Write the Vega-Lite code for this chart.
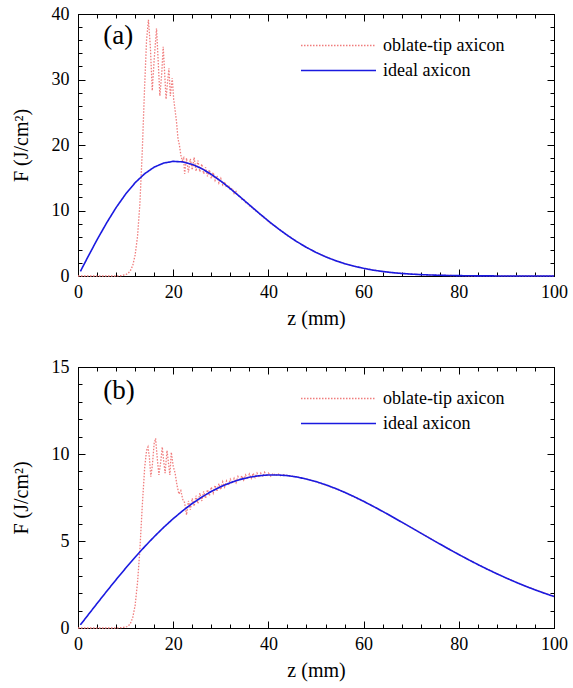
{
  "$schema": "https://vega.github.io/schema/vega-lite/v6.json",
  "padding": {"left": 10, "top": 4, "right": 12, "bottom": 5},
  "background": "white",
  "spacing": 28,
  "config": {
    "view": {"stroke": "black", "strokeWidth": 1},
    "style": {
      "guide-label": {"font": "Liberation Serif", "fontSize": 18, "fill": "#000"},
      "guide-title": {"font": "Liberation Serif", "fontSize": 20, "fontWeight": "normal", "fill": "#000"}
    }
  },
  "resolve": {"scale": {"x": "independent", "y": "independent", "color": "independent", "strokeDash": "independent"}, "legend": {"color": "independent", "strokeDash": "independent"}},
  "vconcat": [
    {
      "width": 476, "height": 262,
      "resolve": {"axis": {"x": "independent", "y": "independent"}},
      "layer": [
        {
          "data": {"values": [
            {"series":"oblate-tip axicon","z":0,"F":0},{"series":"oblate-tip axicon","z":4,"F":0},{"series":"oblate-tip axicon","z":8,"F":0},{"series":"oblate-tip axicon","z":9,"F":0.05},{"series":"oblate-tip axicon","z":10,"F":0.2},{"series":"oblate-tip axicon","z":10.5,"F":0.4},{"series":"oblate-tip axicon","z":11,"F":0.8},{"series":"oblate-tip axicon","z":11.5,"F":1.6},{"series":"oblate-tip axicon","z":12,"F":3.2},{"series":"oblate-tip axicon","z":12.5,"F":6},{"series":"oblate-tip axicon","z":13,"F":11},{"series":"oblate-tip axicon","z":13.5,"F":19},{"series":"oblate-tip axicon","z":14,"F":29},{"series":"oblate-tip axicon","z":14.4,"F":36},{"series":"oblate-tip axicon","z":14.8,"F":39.1},{"series":"oblate-tip axicon","z":15.2,"F":35},{"series":"oblate-tip axicon","z":15.6,"F":28.3},{"series":"oblate-tip axicon","z":16.0,"F":33},{"series":"oblate-tip axicon","z":16.5,"F":37.8},{"series":"oblate-tip axicon","z":16.9,"F":32},{"series":"oblate-tip axicon","z":17.2,"F":27.5},{"series":"oblate-tip axicon","z":17.6,"F":31},{"series":"oblate-tip axicon","z":17.9,"F":35},{"series":"oblate-tip axicon","z":18.2,"F":31},{"series":"oblate-tip axicon","z":18.5,"F":27},{"series":"oblate-tip axicon","z":18.8,"F":29.5},{"series":"oblate-tip axicon","z":19.1,"F":31.7},{"series":"oblate-tip axicon","z":19.4,"F":27.5},{"series":"oblate-tip axicon","z":19.8,"F":30.2},{"series":"oblate-tip axicon","z":20.1,"F":27},{"series":"oblate-tip axicon","z":20.4,"F":25.3},{"series":"oblate-tip axicon","z":20.7,"F":23.5},{"series":"oblate-tip axicon","z":21.0,"F":21},{"series":"oblate-tip axicon","z":21.3,"F":20},{"series":"oblate-tip axicon","z":21.6,"F":18.5},{"series":"oblate-tip axicon","z":21.9,"F":17.6},{"series":"oblate-tip axicon","z":22.2,"F":18.0},{"series":"oblate-tip axicon","z":22.4,"F":15.6},{"series":"oblate-tip axicon","z":22.8,"F":18.0},{"series":"oblate-tip axicon","z":23.2,"F":15.8},{"series":"oblate-tip axicon","z":23.6,"F":17.9},{"series":"oblate-tip axicon","z":24.0,"F":16.2},{"series":"oblate-tip axicon","z":24.4,"F":18.1},{"series":"oblate-tip axicon","z":24.8,"F":16.0},{"series":"oblate-tip axicon","z":25.2,"F":17.6},{"series":"oblate-tip axicon","z":25.6,"F":15.9},{"series":"oblate-tip axicon","z":26.0,"F":17.1},{"series":"oblate-tip axicon","z":26.4,"F":15.6},{"series":"oblate-tip axicon","z":26.8,"F":16.6},{"series":"oblate-tip axicon","z":27.2,"F":15.2},{"series":"oblate-tip axicon","z":27.6,"F":16.2},{"series":"oblate-tip axicon","z":28.0,"F":14.9},{"series":"oblate-tip axicon","z":28.4,"F":15.8},{"series":"oblate-tip axicon","z":28.8,"F":14.6},{"series":"oblate-tip axicon","z":29.2,"F":15.3},{"series":"oblate-tip axicon","z":29.6,"F":14.2},{"series":"oblate-tip axicon","z":30.0,"F":14.9},{"series":"oblate-tip axicon","z":30.4,"F":13.9},{"series":"oblate-tip axicon","z":30.8,"F":14.4},{"series":"oblate-tip axicon","z":31.2,"F":13.5},{"series":"oblate-tip axicon","z":31.6,"F":13.9},{"series":"oblate-tip axicon","z":32.0,"F":13.1},{"series":"oblate-tip axicon","z":32.4,"F":13.4},{"series":"oblate-tip axicon","z":32.8,"F":12.6},{"series":"oblate-tip axicon","z":33.2,"F":12.9},{"series":"oblate-tip axicon","z":33.6,"F":12.2},{"series":"oblate-tip axicon","z":34.0,"F":12.3},{"series":"oblate-tip axicon","z":34.4,"F":11.7},{"series":"oblate-tip axicon","z":34.8,"F":11.8},{"series":"oblate-tip axicon","z":35.2,"F":11.2},{"series":"oblate-tip axicon","z":35.6,"F":11.2},{"series":"oblate-tip axicon","z":36.0,"F":10.7},{"series":"oblate-tip axicon","z":36.4,"F":10.7},{"series":"oblate-tip axicon","z":36.8,"F":10.2},{"series":"oblate-tip axicon","z":37.2,"F":10.2},{"series":"oblate-tip axicon","z":37.6,"F":9.7},{"series":"oblate-tip axicon","z":38.0,"F":9.7},{"series":"oblate-tip axicon","z":38.4,"F":9.2},{"series":"oblate-tip axicon","z":38.8,"F":9.2},{"series":"oblate-tip axicon","z":39.2,"F":8.75},{"series":"oblate-tip axicon","z":39.6,"F":8.7},{"series":"oblate-tip axicon","z":40.0,"F":8.3},{"series":"oblate-tip axicon","z":40.5,"F":8.0},{"series":"oblate-tip axicon","z":41.0,"F":7.8},{"series":"oblate-tip axicon","z":42,"F":7.26},{"series":"oblate-tip axicon","z":44,"F":6.2},{"series":"oblate-tip axicon","z":46,"F":5.23},{"series":"oblate-tip axicon","z":48,"F":4.37},{"series":"oblate-tip axicon","z":50,"F":3.6},{"series":"oblate-tip axicon","z":52,"F":2.94},{"series":"oblate-tip axicon","z":54,"F":2.37},{"series":"oblate-tip axicon","z":56,"F":1.89},{"series":"oblate-tip axicon","z":58,"F":1.5},{"series":"oblate-tip axicon","z":60,"F":1.17},{"series":"oblate-tip axicon","z":62,"F":0.9},{"series":"oblate-tip axicon","z":64,"F":0.69},{"series":"oblate-tip axicon","z":66,"F":0.52},{"series":"oblate-tip axicon","z":68,"F":0.39},{"series":"oblate-tip axicon","z":70,"F":0.29},{"series":"oblate-tip axicon","z":72,"F":0.21},{"series":"oblate-tip axicon","z":74,"F":0.155},{"series":"oblate-tip axicon","z":76,"F":0.11},{"series":"oblate-tip axicon","z":78,"F":0.08},{"series":"oblate-tip axicon","z":80,"F":0.056},{"series":"oblate-tip axicon","z":84,"F":0.02},{"series":"oblate-tip axicon","z":88,"F":0.01},{"series":"oblate-tip axicon","z":92,"F":0},{"series":"oblate-tip axicon","z":100,"F":0}
          ]},
          "mark": {"type": "line", "strokeWidth": 1.3},
          "encoding": {
            "x": {"field": "z", "type": "quantitative", "scale": {"domain": [0, 100], "nice": false},
              "axis": {"orient": "bottom", "values": [0,4,8,12,16,20,24,28,32,36,40,44,48,52,56,60,64,68,72,76,80,84,88,92,96,100], "labelExpr": "datum.value % 20 === 0 ? datum.label : ''", "tickSize": {"condition": {"test": "datum.value % 20 === 0", "value": -7}, "value": -4}, "labelPadding": 14, "title": "z (mm)", "titlePadding": 4, "domainColor": "#000", "tickColor": "#000", "labelFlush": false, "labelOverlap": false, "grid": false,
                "encode": {"labels": {"update": {"font": {"value": "Liberation Serif"}, "fontSize": {"value": 18}, "fill": {"value": "#000"}}}, "title": {"update": {"font": {"value": "Liberation Serif"}, "fontSize": {"value": 20}, "fontWeight": {"value": "normal"}, "fill": {"value": "#000"}}}}}},
            "y": {"field": "F", "type": "quantitative", "scale": {"domain": [0, 40], "nice": false},
              "axis": {"orient": "left", "values": [0,2,4,6,8,10,12,14,16,18,20,22,24,26,28,30,32,34,36,38,40], "labelExpr": "datum.value % 10 === 0 ? datum.label : ''", "tickSize": {"condition": {"test": "datum.value % 10 === 0", "value": -7}, "value": -4}, "labelPadding": 16, "title": "F (J/cm²)", "titlePadding": 20, "domainColor": "#000", "tickColor": "#000", "labelFlush": false, "labelOverlap": false, "grid": false,
                "encode": {"labels": {"update": {"font": {"value": "Liberation Serif"}, "fontSize": {"value": 18}, "fill": {"value": "#000"}}}, "title": {"update": {"font": {"value": "Liberation Serif"}, "fontSize": {"value": 20}, "fontWeight": {"value": "normal"}, "fill": {"value": "#000"}}}}}},
            "color": {"field": "series", "type": "nominal", "scale": {"domain": ["oblate-tip axicon", "ideal axicon"], "range": ["#f07c7c", "#1a1ae0"]},
              "legend": {"title": null, "orient": "none", "legendX": 222, "legendY": 20, "symbolType": "stroke", "symbolSize": 5625, "clipHeight": 23, "symbolStrokeWidth": 1.5, "labelOffset": 6,
                "encode": {"labels": {"update": {"font": {"value": "Liberation Serif"}, "fontSize": {"value": 18}, "fill": {"value": "#000"}}}}}},
            "strokeDash": {"field": "series", "type": "nominal", "scale": {"domain": ["oblate-tip axicon", "ideal axicon"], "range": [[1.5, 1.5], [1, 0]]}}
          }
        },
        {
          "data": {"values": [
            {"series":"ideal axicon","z":0.5,"F":0.7},{"series":"ideal axicon","z":2,"F":2.8},{"series":"ideal axicon","z":4,"F":5.53},{"series":"ideal axicon","z":6,"F":8.09},{"series":"ideal axicon","z":8,"F":10.44},{"series":"ideal axicon","z":10,"F":12.5},{"series":"ideal axicon","z":12,"F":14.24},{"series":"ideal axicon","z":14,"F":15.61},{"series":"ideal axicon","z":16,"F":16.62},{"series":"ideal axicon","z":18,"F":17.24},{"series":"ideal axicon","z":20,"F":17.5},{"series":"ideal axicon","z":22,"F":17.42},{"series":"ideal axicon","z":24,"F":17.04},{"series":"ideal axicon","z":26,"F":16.39},{"series":"ideal axicon","z":28,"F":15.52},{"series":"ideal axicon","z":30,"F":14.49},{"series":"ideal axicon","z":32,"F":13.33},{"series":"ideal axicon","z":34,"F":12.11},{"series":"ideal axicon","z":36,"F":10.86},{"series":"ideal axicon","z":38,"F":9.61},{"series":"ideal axicon","z":40,"F":8.4},{"series":"ideal axicon","z":42,"F":7.26},{"series":"ideal axicon","z":44,"F":6.2},{"series":"ideal axicon","z":46,"F":5.23},{"series":"ideal axicon","z":48,"F":4.37},{"series":"ideal axicon","z":50,"F":3.6},{"series":"ideal axicon","z":52,"F":2.94},{"series":"ideal axicon","z":54,"F":2.37},{"series":"ideal axicon","z":56,"F":1.89},{"series":"ideal axicon","z":58,"F":1.5},{"series":"ideal axicon","z":60,"F":1.17},{"series":"ideal axicon","z":62,"F":0.9},{"series":"ideal axicon","z":64,"F":0.69},{"series":"ideal axicon","z":66,"F":0.52},{"series":"ideal axicon","z":68,"F":0.39},{"series":"ideal axicon","z":70,"F":0.29},{"series":"ideal axicon","z":72,"F":0.21},{"series":"ideal axicon","z":74,"F":0.155},{"series":"ideal axicon","z":76,"F":0.11},{"series":"ideal axicon","z":78,"F":0.08},{"series":"ideal axicon","z":80,"F":0.056},{"series":"ideal axicon","z":84,"F":0.02},{"series":"ideal axicon","z":88,"F":0.01},{"series":"ideal axicon","z":92,"F":0},{"series":"ideal axicon","z":100,"F":0}
          ]},
          "mark": {"type": "line", "strokeWidth": 1.6},
          "encoding": {
            "x": {"field": "z", "type": "quantitative",
              "axis": {"orient": "top", "values": [0,4,8,12,16,20,24,28,32,36,40,44,48,52,56,60,64,68,72,76,80,84,88,92,96,100], "labels": false, "title": null, "tickSize": {"condition": {"test": "datum.value % 20 === 0", "value": -7}, "value": -4}, "domainColor": "#000", "tickColor": "#000", "grid": false}},
            "y": {"field": "F", "type": "quantitative",
              "axis": {"orient": "right", "values": [0,2,4,6,8,10,12,14,16,18,20,22,24,26,28,30,32,34,36,38,40], "labels": false, "title": null, "tickSize": {"condition": {"test": "datum.value % 10 === 0", "value": -7}, "value": -4}, "domainColor": "#000", "tickColor": "#000", "grid": false}},
            "color": {"field": "series", "type": "nominal"},
            "strokeDash": {"field": "series", "type": "nominal"}
          }
        },
        {
          "data": {"values": [{"label": "(a)"}]},
          "mark": {"type": "text", "align": "left", "baseline": "middle", "fontSize": 27, "font": "Liberation Serif", "color": "#000"},
          "encoding": {
            "x": {"datum": 5.3, "type": "quantitative", "axis": null},
            "y": {"datum": 36.6, "type": "quantitative", "axis": null},
            "text": {"field": "label"}
          }
        }
      ]
    },
    {
      "width": 476, "height": 261,
      "resolve": {"axis": {"x": "independent", "y": "independent"}},
      "layer": [
        {
          "data": {"values": [
            {"series":"oblate-tip axicon","z":0,"F":0},{"series":"oblate-tip axicon","z":4,"F":0},{"series":"oblate-tip axicon","z":8,"F":0},{"series":"oblate-tip axicon","z":9,"F":0.02},{"series":"oblate-tip axicon","z":10,"F":0.05},{"series":"oblate-tip axicon","z":10.5,"F":0.1},{"series":"oblate-tip axicon","z":11,"F":0.25},{"series":"oblate-tip axicon","z":11.5,"F":0.6},{"series":"oblate-tip axicon","z":12,"F":1.3},{"series":"oblate-tip axicon","z":12.5,"F":2.6},{"series":"oblate-tip axicon","z":13,"F":4.5},{"series":"oblate-tip axicon","z":13.5,"F":7},{"series":"oblate-tip axicon","z":14,"F":9.2},{"series":"oblate-tip axicon","z":14.4,"F":10.2},{"series":"oblate-tip axicon","z":14.7,"F":10.4},{"series":"oblate-tip axicon","z":15.0,"F":9.8},{"series":"oblate-tip axicon","z":15.3,"F":8.7},{"series":"oblate-tip axicon","z":15.6,"F":9.3},{"series":"oblate-tip axicon","z":16.0,"F":10.6},{"series":"oblate-tip axicon","z":16.3,"F":10.9},{"series":"oblate-tip axicon","z":16.7,"F":9.6},{"series":"oblate-tip axicon","z":17.0,"F":8.8},{"series":"oblate-tip axicon","z":17.4,"F":9.6},{"series":"oblate-tip axicon","z":17.7,"F":10.4},{"series":"oblate-tip axicon","z":18.0,"F":9.6},{"series":"oblate-tip axicon","z":18.3,"F":8.9},{"series":"oblate-tip axicon","z":18.7,"F":10.2},{"series":"oblate-tip axicon","z":19.0,"F":9.5},{"series":"oblate-tip axicon","z":19.3,"F":8.8},{"series":"oblate-tip axicon","z":19.6,"F":10.1},{"series":"oblate-tip axicon","z":20.0,"F":9.3},{"series":"oblate-tip axicon","z":20.4,"F":8.9},{"series":"oblate-tip axicon","z":20.8,"F":8.2},{"series":"oblate-tip axicon","z":21.2,"F":7.7},{"series":"oblate-tip axicon","z":21.6,"F":7.9},{"series":"oblate-tip axicon","z":22.0,"F":7.4},{"series":"oblate-tip axicon","z":22.4,"F":7.2},{"series":"oblate-tip axicon","z":22.8,"F":6.5},{"series":"oblate-tip axicon","z":23.2,"F":7.3},{"series":"oblate-tip axicon","z":23.6,"F":6.8},{"series":"oblate-tip axicon","z":24.0,"F":7.45},{"series":"oblate-tip axicon","z":24.4,"F":7.0},{"series":"oblate-tip axicon","z":24.8,"F":7.6},{"series":"oblate-tip axicon","z":25.2,"F":7.15},{"series":"oblate-tip axicon","z":25.6,"F":7.75},{"series":"oblate-tip axicon","z":26.0,"F":7.3},{"series":"oblate-tip axicon","z":26.4,"F":7.85},{"series":"oblate-tip axicon","z":26.8,"F":7.45},{"series":"oblate-tip axicon","z":27.2,"F":7.95},{"series":"oblate-tip axicon","z":27.6,"F":7.6},{"series":"oblate-tip axicon","z":28.0,"F":8.1},{"series":"oblate-tip axicon","z":28.4,"F":7.75},{"series":"oblate-tip axicon","z":28.8,"F":8.2},{"series":"oblate-tip axicon","z":29.2,"F":7.85},{"series":"oblate-tip axicon","z":29.6,"F":8.3},{"series":"oblate-tip axicon","z":30.0,"F":7.95},{"series":"oblate-tip axicon","z":30.4,"F":8.4},{"series":"oblate-tip axicon","z":30.8,"F":8.1},{"series":"oblate-tip axicon","z":31.2,"F":8.45},{"series":"oblate-tip axicon","z":31.6,"F":8.2},{"series":"oblate-tip axicon","z":32.0,"F":8.55},{"series":"oblate-tip axicon","z":32.4,"F":8.3},{"series":"oblate-tip axicon","z":32.8,"F":8.6},{"series":"oblate-tip axicon","z":33.2,"F":8.35},{"series":"oblate-tip axicon","z":33.6,"F":8.7},{"series":"oblate-tip axicon","z":34.0,"F":8.45},{"series":"oblate-tip axicon","z":34.4,"F":8.75},{"series":"oblate-tip axicon","z":34.8,"F":8.5},{"series":"oblate-tip axicon","z":35.2,"F":8.8},{"series":"oblate-tip axicon","z":35.6,"F":8.55},{"series":"oblate-tip axicon","z":36.0,"F":8.85},{"series":"oblate-tip axicon","z":36.4,"F":8.6},{"series":"oblate-tip axicon","z":36.8,"F":8.9},{"series":"oblate-tip axicon","z":37.2,"F":8.65},{"series":"oblate-tip axicon","z":37.6,"F":8.9},{"series":"oblate-tip axicon","z":38.0,"F":8.65},{"series":"oblate-tip axicon","z":38.4,"F":8.9},{"series":"oblate-tip axicon","z":38.8,"F":8.7},{"series":"oblate-tip axicon","z":39.2,"F":8.95},{"series":"oblate-tip axicon","z":39.6,"F":8.7},{"series":"oblate-tip axicon","z":40.0,"F":8.9},{"series":"oblate-tip axicon","z":40.5,"F":8.72},{"series":"oblate-tip axicon","z":41.0,"F":8.9},{"series":"oblate-tip axicon","z":41.5,"F":8.75},{"series":"oblate-tip axicon","z":42.0,"F":8.88},{"series":"oblate-tip axicon","z":42.5,"F":8.75},{"series":"oblate-tip axicon","z":43.0,"F":8.82},{"series":"oblate-tip axicon","z":44,"F":8.76},{"series":"oblate-tip axicon","z":46,"F":8.677},{"series":"oblate-tip axicon","z":48,"F":8.561},{"series":"oblate-tip axicon","z":50,"F":8.413},{"series":"oblate-tip axicon","z":55,"F":7.92},{"series":"oblate-tip axicon","z":60,"F":7.28},{"series":"oblate-tip axicon","z":65,"F":6.55},{"series":"oblate-tip axicon","z":70,"F":5.771},{"series":"oblate-tip axicon","z":75,"F":4.985},{"series":"oblate-tip axicon","z":80,"F":4.222},{"series":"oblate-tip axicon","z":85,"F":3.51},{"series":"oblate-tip axicon","z":90,"F":2.867},{"series":"oblate-tip axicon","z":95,"F":2.3},{"series":"oblate-tip axicon","z":100,"F":1.811}
          ]},
          "mark": {"type": "line", "strokeWidth": 1.3},
          "encoding": {
            "x": {"field": "z", "type": "quantitative", "scale": {"domain": [0, 100], "nice": false},
              "axis": {"orient": "bottom", "values": [0,4,8,12,16,20,24,28,32,36,40,44,48,52,56,60,64,68,72,76,80,84,88,92,96,100], "labelExpr": "datum.value % 20 === 0 ? datum.label : ''", "tickSize": {"condition": {"test": "datum.value % 20 === 0", "value": -7}, "value": -4}, "labelPadding": 14, "title": "z (mm)", "titlePadding": 4, "domainColor": "#000", "tickColor": "#000", "labelFlush": false, "labelOverlap": false, "grid": false,
                "encode": {"labels": {"update": {"font": {"value": "Liberation Serif"}, "fontSize": {"value": 18}, "fill": {"value": "#000"}}}, "title": {"update": {"font": {"value": "Liberation Serif"}, "fontSize": {"value": 20}, "fontWeight": {"value": "normal"}, "fill": {"value": "#000"}}}}}},
            "y": {"field": "F", "type": "quantitative", "scale": {"domain": [0, 15], "nice": false},
              "axis": {"orient": "left", "values": [0,1,2,3,4,5,6,7,8,9,10,11,12,13,14,15], "labelExpr": "datum.value % 5 === 0 ? datum.label : ''", "tickSize": {"condition": {"test": "datum.value % 5 === 0", "value": -7}, "value": -4}, "labelPadding": 16, "title": "F (J/cm²)", "titlePadding": 20, "domainColor": "#000", "tickColor": "#000", "labelFlush": false, "labelOverlap": false, "grid": false,
                "encode": {"labels": {"update": {"font": {"value": "Liberation Serif"}, "fontSize": {"value": 18}, "fill": {"value": "#000"}}}, "title": {"update": {"font": {"value": "Liberation Serif"}, "fontSize": {"value": 20}, "fontWeight": {"value": "normal"}, "fill": {"value": "#000"}}}}}},
            "color": {"field": "series", "type": "nominal", "scale": {"domain": ["oblate-tip axicon", "ideal axicon"], "range": ["#f07c7c", "#1a1ae0"]},
              "legend": {"title": null, "orient": "none", "legendX": 222, "legendY": 20, "symbolType": "stroke", "symbolSize": 5625, "clipHeight": 23, "symbolStrokeWidth": 1.5, "labelOffset": 6,
                "encode": {"labels": {"update": {"font": {"value": "Liberation Serif"}, "fontSize": {"value": 18}, "fill": {"value": "#000"}}}}}},
            "strokeDash": {"field": "series", "type": "nominal", "scale": {"domain": ["oblate-tip axicon", "ideal axicon"], "range": [[1.5, 1.5], [1, 0]]}}
          }
        },
        {
          "data": {"values": [
            {"series":"ideal axicon","z":0.5,"F":0.18},{"series":"ideal axicon","z":2,"F":0.707},{"series":"ideal axicon","z":4,"F":1.408},{"series":"ideal axicon","z":6,"F":2.1},{"series":"ideal axicon","z":8,"F":2.777},{"series":"ideal axicon","z":10,"F":3.434},{"series":"ideal axicon","z":12,"F":4.068},{"series":"ideal axicon","z":14,"F":4.673},{"series":"ideal axicon","z":16,"F":5.246},{"series":"ideal axicon","z":18,"F":5.784},{"series":"ideal axicon","z":20,"F":6.283},{"series":"ideal axicon","z":22,"F":6.74},{"series":"ideal axicon","z":24,"F":7.155},{"series":"ideal axicon","z":26,"F":7.524},{"series":"ideal axicon","z":28,"F":7.847},{"series":"ideal axicon","z":30,"F":8.123},{"series":"ideal axicon","z":32,"F":8.35},{"series":"ideal axicon","z":34,"F":8.531},{"series":"ideal axicon","z":36,"F":8.664},{"series":"ideal axicon","z":38,"F":8.752},{"series":"ideal axicon","z":40,"F":8.796},{"series":"ideal axicon","z":42,"F":8.796},{"series":"ideal axicon","z":44,"F":8.756},{"series":"ideal axicon","z":46,"F":8.677},{"series":"ideal axicon","z":48,"F":8.561},{"series":"ideal axicon","z":50,"F":8.413},{"series":"ideal axicon","z":52,"F":8.235},{"series":"ideal axicon","z":54,"F":8.029},{"series":"ideal axicon","z":56,"F":7.8},{"series":"ideal axicon","z":58,"F":7.549},{"series":"ideal axicon","z":60,"F":7.28},{"series":"ideal axicon","z":62,"F":6.996},{"series":"ideal axicon","z":64,"F":6.701},{"series":"ideal axicon","z":66,"F":6.397},{"series":"ideal axicon","z":68,"F":6.085},{"series":"ideal axicon","z":70,"F":5.771},{"series":"ideal axicon","z":72,"F":5.455},{"series":"ideal axicon","z":74,"F":5.141},{"series":"ideal axicon","z":76,"F":4.829},{"series":"ideal axicon","z":78,"F":4.522},{"series":"ideal axicon","z":80,"F":4.222},{"series":"ideal axicon","z":82,"F":3.931},{"series":"ideal axicon","z":84,"F":3.648},{"series":"ideal axicon","z":86,"F":3.376},{"series":"ideal axicon","z":88,"F":3.115},{"series":"ideal axicon","z":90,"F":2.867},{"series":"ideal axicon","z":92,"F":2.63},{"series":"ideal axicon","z":94,"F":2.405},{"series":"ideal axicon","z":96,"F":2.194},{"series":"ideal axicon","z":98,"F":1.995},{"series":"ideal axicon","z":100,"F":1.811}
          ]},
          "mark": {"type": "line", "strokeWidth": 1.6},
          "encoding": {
            "x": {"field": "z", "type": "quantitative",
              "axis": {"orient": "top", "values": [0,4,8,12,16,20,24,28,32,36,40,44,48,52,56,60,64,68,72,76,80,84,88,92,96,100], "labels": false, "title": null, "tickSize": {"condition": {"test": "datum.value % 20 === 0", "value": -7}, "value": -4}, "domainColor": "#000", "tickColor": "#000", "grid": false}},
            "y": {"field": "F", "type": "quantitative",
              "axis": {"orient": "right", "values": [0,1,2,3,4,5,6,7,8,9,10,11,12,13,14,15], "labels": false, "title": null, "tickSize": {"condition": {"test": "datum.value % 5 === 0", "value": -7}, "value": -4}, "domainColor": "#000", "tickColor": "#000", "grid": false}},
            "color": {"field": "series", "type": "nominal"},
            "strokeDash": {"field": "series", "type": "nominal"}
          }
        },
        {
          "data": {"values": [{"label": "(b)"}]},
          "mark": {"type": "text", "align": "left", "baseline": "middle", "fontSize": 27, "font": "Liberation Serif", "color": "#000"},
          "encoding": {
            "x": {"datum": 5.3, "type": "quantitative", "axis": null},
            "y": {"datum": 13.6, "type": "quantitative", "axis": null},
            "text": {"field": "label"}
          }
        }
      ]
    }
  ]
}
